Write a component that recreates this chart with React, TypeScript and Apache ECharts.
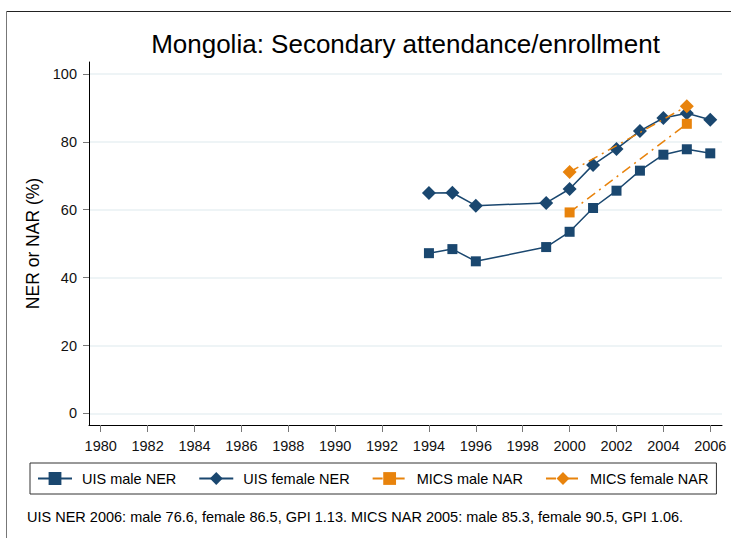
import React, { useEffect, useRef } from "react";
import * as echarts from "echarts";

const uisYears = [1994, 1995, 1996, 1999, 2000, 2001, 2002, 2003, 2004, 2005, 2006];
const uisMale = [47.2, 48.4, 44.8, 49.0, 53.5, 60.5, 65.6, 71.5, 76.2, 77.8, 76.6];
const uisFemale = [64.9, 65.0, 61.2, 62.0, 66.1, 73.2, 77.9, 83.2, 87.0, 88.4, 86.5];
const micsYears = [2000, 2005];
const micsMale = [59.2, 85.3];
const micsFemale = [71.1, 90.5];
const xTicks = [1980, 1982, 1984, 1986, 1988, 1990, 1992, 1994, 1996, 1998, 2000, 2002, 2004, 2006];
const yTicks = [0, 20, 40, 60, 80, 100];
const seriesNames = ["UIS male NER", "UIS female NER", "MICS male NAR", "MICS female NAR"];
const titleText = "Mongolia: Secondary attendance/enrollment";
const yAxisName = "NER or NAR (%)";
const noteText =
  "UIS NER 2006: male 76.6, female 86.5, GPI 1.13. MICS NAR 2005: male 85.3, female 90.5, GPI 1.06.";

const FONT = "'Liberation Sans', Arial, Helvetica, sans-serif";
const NAVY = "#1a476f";
const ORANGE = "#e8830c";

function pairs(xs: number[], ys: number[]) {
  return xs.map((x, i) => [x, ys[i]]);
}

export default function App() {
  const ref = useRef<HTMLDivElement>(null);
  useEffect(() => {
    document.body.style.margin = "0";
    const chart = echarts.init(ref.current!, undefined, { renderer: "svg" });
    const dashDot = [10, 5, 2, 5];
    chart.setOption({
      animation: false,
      backgroundColor: "#fff",
      textStyle: { fontFamily: FONT },
      title: {
        text: titleText,
        left: 405.5,
        top: 31,
        textAlign: "center",
        padding: 0,
        textStyle: { fontSize: 26, fontWeight: "normal", color: "#000", fontFamily: FONT },
      },
      grid: { left: 89, right: 9, top: 62, bottom: 113 },
      xAxis: {
        type: "value",
        min: 1979.5,
        max: 2006.5,
        axisLine: { show: true, onZero: false, lineStyle: { color: "#000", width: 1 } },
        axisTick: { show: true, length: 7, customValues: xTicks, lineStyle: { color: "#777" } },
        axisLabel: {
          customValues: xTicks,
          formatter: (v: number) => String(v),
          margin: 13,
          fontSize: 14.5,
          color: "#111",
          fontFamily: FONT,
        },
        splitLine: { show: false },
      },
      yAxis: {
        type: "value",
        min: -3.4,
        max: 103.5,
        name: yAxisName,
        nameLocation: "middle",
        nameGap: 41,
        nameTextStyle: { fontSize: 17.5, color: "#000", fontFamily: FONT },
        axisLine: { show: true, onZero: false, lineStyle: { color: "#000", width: 1 } },
        axisTick: { show: true, length: 6, customValues: yTicks, lineStyle: { color: "#777" } },
        axisLabel: {
          customValues: yTicks,
          formatter: (v: number) => String(v),
          margin: 12,
          fontSize: 14.5,
          color: "#111",
          fontFamily: FONT,
        },
        splitLine: { show: true, lineStyle: { color: "#e9f0f3", width: 1.5 } },
      },
      legend: {
        data: seriesNames,
        left: 30,
        top: 463,
        padding: [8, 8, 8, 7],
        borderColor: "#333",
        borderWidth: 1,
        itemGap: 22,
        itemWidth: 34,
        itemHeight: 16,
        textStyle: { fontSize: 14.5, color: "#000", fontFamily: FONT, padding: [0, 0, 0, 5] },
      },
      graphic: [
        {
          type: "line",
          shape: { x1: 6.5, y1: 11.5, x2: 731, y2: 11.5 },
          style: { stroke: "#222", lineWidth: 1 },
          silent: true,
        },
        {
          type: "line",
          shape: { x1: 6.5, y1: 11.5, x2: 6.5, y2: 538 },
          style: { stroke: "#777", lineWidth: 1 },
          silent: true,
        },
        {
          type: "text",
          x: 27,
          y: 517,
          style: {
            text: noteText,
            fontSize: 14.5,
            fontFamily: FONT,
            fill: "#000",
            verticalAlign: "middle",
            align: "left",
          },
          silent: true,
        },
      ],
      series: [
        {
          name: seriesNames[0],
          type: "line",
          data: pairs(uisYears, uisMale),
          symbol: "rect",
          symbolSize: 10,
          itemStyle: { color: NAVY },
          lineStyle: { color: NAVY, width: 1.5 },
          z: 2,
        },
        {
          name: seriesNames[1],
          type: "line",
          data: pairs(uisYears, uisFemale),
          symbol: "diamond",
          symbolSize: 14,
          itemStyle: { color: NAVY },
          lineStyle: { color: NAVY, width: 1.5 },
          z: 2,
        },
        {
          name: seriesNames[2],
          type: "line",
          data: pairs(micsYears, micsMale),
          symbol: "rect",
          symbolSize: 10,
          itemStyle: { color: ORANGE },
          lineStyle: { color: ORANGE, width: 1.5, type: dashDot },
          z: 3,
        },
        {
          name: seriesNames[3],
          type: "line",
          data: pairs(micsYears, micsFemale),
          symbol: "diamond",
          symbolSize: 14,
          itemStyle: { color: ORANGE },
          lineStyle: { color: ORANGE, width: 1.5, type: dashDot },
          z: 3,
        },
      ],
    });
    return () => chart.dispose();
  }, []);
  return (
    <div
      ref={ref}
      style={{ position: "absolute", left: 0, top: 0, width: 731, height: 538 }}
    />
  );
}
